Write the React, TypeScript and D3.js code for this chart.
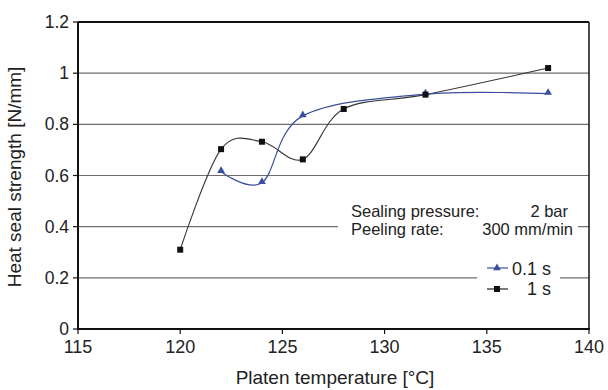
import React from "react";
import * as d3 from "d3";

const temps01 = [122, 124, 126, 132, 138];
const values01 = [0.615, 0.572, 0.833, 0.918, 0.92];
const temps1 = [120, 122, 124, 126, 128, 132, 138];
const values1 = [0.31, 0.703, 0.732, 0.663, 0.86, 0.916, 1.02];
const xTicks = [115, 120, 125, 130, 135, 140];
const yTicks = [0, 0.2, 0.4, 0.6, 0.8, 1, 1.2];

const W = 608;
const H = 390;
const left = 78;
const right = 589;
const top = 22;
const bottom = 329;
const font = "'Liberation Sans', Arial, sans-serif";

export default function App() {
  const x = d3.scaleLinear().domain([115, 140]).range([left, right]);
  const y = d3.scaleLinear().domain([0, 1.2]).range([bottom, top]);

  const lineGen = d3
    .line<[number, number]>()
    .x((d) => x(d[0]))
    .y((d) => y(d[1]))
    .curve(d3.curveCatmullRom.alpha(0));

  const pts01 = temps01.map((t, i) => [t, values01[i]] as [number, number]);
  const pts1 = temps1.map((t, i) => [t, values1[i]] as [number, number]);

  const blue = "#3b4f9e";
  const tri = d3.symbol().type(d3.symbolTriangle).size(26)() as string;

  return (
    <svg
      width={W}
      height={H}
      style={{ position: "absolute", left: 0, top: 0, background: "#fff" }}
      fontFamily={font}
    >
      {/* grid */}
      {yTicks.slice(1, -1).map((t) => (
        <line
          key={t}
          x1={left}
          x2={right}
          y1={y(t)}
          y2={y(t)}
          stroke="#6f6f6f"
          strokeWidth={1.2}
        />
      ))}
      {/* frame */}
      <line x1={left} x2={right} y1={top} y2={top} stroke="#111" strokeWidth={2} />
      <line x1={right} x2={right} y1={top} y2={bottom} stroke="#111" strokeWidth={1.5} />

      {/* info box */}
      <rect x={338} y={201} width={240} height={39} fill="#fff" />
      <g fontSize={16.5} fill="#222">
        <text x={351} y={216.5}>Sealing pressure:</text>
        <text x={568} y={216.5} textAnchor="end">2 bar</text>
        <text x={351} y={235}>Peeling rate:</text>
        <text x={573} y={235} textAnchor="end">300 mm/min</text>
      </g>

      {/* legend */}
      <rect x={477} y={258} width={83} height={42} fill="#fff" />
      <line x1={487} x2={508} y1={268} y2={268} stroke={blue} strokeWidth={1.2} />
      <path d={tri} transform={`translate(497,268)`} fill={blue} />
      <text x={551} y={275} textAnchor="end" fontSize={18} fill="#222">0.1 s</text>
      <line x1={487} x2={508} y1={289} y2={289} stroke="#222" strokeWidth={1.2} />
      <rect x={494} y={286} width={6} height={6} fill="#111" />
      <text x={551} y={295} textAnchor="end" fontSize={18} fill="#222">1 s</text>

      {/* series */}
      <path d={lineGen(pts1) ?? ""} fill="none" stroke="#333" strokeWidth={1.1} />
      <path d={lineGen(pts01) ?? ""} fill="none" stroke={blue} strokeWidth={1.2} />
      {pts01.map((p, i) => (
        <path key={i} d={tri} transform={`translate(${x(p[0])},${y(p[1]) - 1})`} fill={blue} />
      ))}
      {pts1.map((p, i) => (
        <rect key={i} x={x(p[0]) - 3} y={y(p[1]) - 3} width={6} height={6} fill="#111" />
      ))}

      {/* axes */}
      <line x1={left} x2={left} y1={top} y2={bottom + 1} stroke="#111" strokeWidth={2} />
      <line x1={left - 1} x2={right + 1} y1={bottom} y2={bottom} stroke="#111" strokeWidth={2} />
      {yTicks.map((t) => (
        <g key={t}>
          <line x1={left - 5} x2={left} y1={y(t)} y2={y(t)} stroke="#111" strokeWidth={1.2} />
          <text x={69} y={y(t) + 6} textAnchor="end" fontSize={17.5} fill="#222">
            {t}
          </text>
        </g>
      ))}
      {xTicks.map((t) => (
        <g key={t}>
          <line x1={x(t)} x2={x(t)} y1={bottom} y2={bottom + 5} stroke="#111" strokeWidth={1.2} />
          <text x={x(t)} y={353} textAnchor="middle" fontSize={18} fill="#222">
            {t}
          </text>
        </g>
      ))}

      {/* axis titles */}
      <text x={335} y={384} textAnchor="middle" fontSize={19} fill="#222">
        Platen temperature [°C]
      </text>
      <text
        transform={`translate(21,177) rotate(-90)`}
        textAnchor="middle"
        fontSize={19}
        fill="#222"
      >
        Heat seal strength [N/mm]
      </text>
    </svg>
  );
}
